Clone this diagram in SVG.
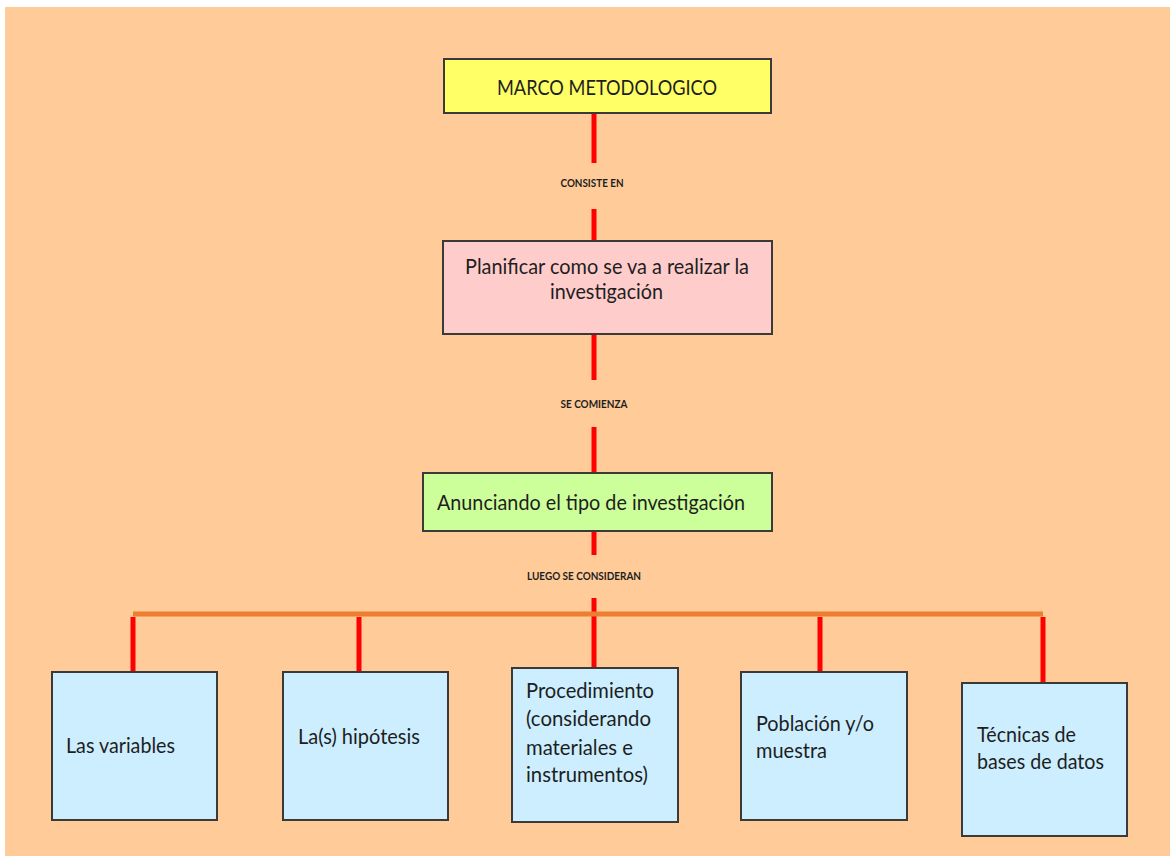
<svg xmlns="http://www.w3.org/2000/svg" width="1170" height="856" viewBox="0 0 1170 856">
<style>
.box{stroke:#3a3a3a;stroke-width:2}
.red{stroke:#ff0000;stroke-width:5;fill:none}
.org{stroke:#ed7d31;stroke-width:5;fill:none}
.t{font-family:Lato,"Open Sans",sans-serif;font-size:21px;fill:#1e1e1e}
.s{font-family:Lato,"Open Sans",sans-serif;font-size:11.5px;font-weight:bold;fill:#1e1e1e}
</style>
<rect x="0" y="0" width="1170" height="856" fill="#ffffff"/>
<rect x="5" y="7" width="1165" height="849" fill="#ffcb99"/>
<g id="connectors">
<line class="red" x1="594" y1="113" x2="594" y2="163"/>
<line class="red" x1="594" y1="209" x2="594" y2="241"/>
<line class="red" x1="594" y1="334" x2="594" y2="380"/>
<line class="red" x1="594" y1="427" x2="594" y2="473"/>
<line class="red" x1="594" y1="531" x2="594" y2="555"/>
<line class="red" x1="594" y1="598" x2="594" y2="668"/>
<line class="org" x1="133" y1="614" x2="1043" y2="614"/>
<line class="red" x1="133" y1="617" x2="133" y2="672"/>
<line class="red" x1="359" y1="617" x2="359" y2="672"/>
<line class="red" x1="820" y1="617" x2="820" y2="672"/>
<line class="red" x1="1043" y1="617" x2="1043" y2="683"/>
<text class="s" x="592" y="187" text-anchor="middle" textLength="63" lengthAdjust="spacingAndGlyphs">CONSISTE EN</text>
<text class="s" x="594" y="408" text-anchor="middle" textLength="67" lengthAdjust="spacingAndGlyphs">SE COMIENZA</text>
<text class="s" x="584" y="580" text-anchor="middle" textLength="114" lengthAdjust="spacingAndGlyphs">LUEGO SE CONSIDERAN</text>
</g>
<g id="marco">
<rect class="box" x="444" y="59" width="327" height="54" fill="#ffff66"/>
<text class="t" x="497" y="95" textLength="220" lengthAdjust="spacingAndGlyphs">MARCO METODOLOGICO</text>
</g>
<g id="planificar">
<rect class="box" x="443" y="241" width="329" height="93" fill="#ffcccc"/>
<text class="t" x="465" y="274" textLength="284" lengthAdjust="spacingAndGlyphs">Planificar como se va a realizar la</text>
<text class="t" x="550" y="299" textLength="113" lengthAdjust="spacingAndGlyphs">investigación</text>
</g>
<g id="anunciando">
<rect class="box" x="423" y="473" width="349" height="58" fill="#ccff99"/>
<text class="t" x="437" y="510" textLength="308" lengthAdjust="spacingAndGlyphs">Anunciando el tipo de investigación</text>
</g>
<g id="variables">
<rect class="box" x="52" y="672" width="165" height="148" fill="#cceeff"/>
<text class="t" x="66" y="753" textLength="109" lengthAdjust="spacingAndGlyphs">Las variables</text>
</g>
<g id="hipotesis">
<rect class="box" x="283" y="672" width="165" height="148" fill="#cceeff"/>
<text class="t" x="298" y="744" textLength="122" lengthAdjust="spacingAndGlyphs">La(s) hipótesis</text>
</g>
<g id="procedimiento">
<rect class="box" x="512" y="668" width="166" height="154" fill="#cceeff"/>
<text class="t" x="526" y="698" textLength="128" lengthAdjust="spacingAndGlyphs">Procedimiento</text>
<text class="t" x="526" y="726" textLength="125" lengthAdjust="spacingAndGlyphs">(considerando</text>
<text class="t" x="526" y="755" textLength="107" lengthAdjust="spacingAndGlyphs">materiales e</text>
<text class="t" x="526" y="782" textLength="122" lengthAdjust="spacingAndGlyphs">instrumentos)</text>
</g>
<g id="poblacion">
<rect class="box" x="741" y="672" width="166" height="148" fill="#cceeff"/>
<text class="t" x="756" y="731" textLength="118" lengthAdjust="spacingAndGlyphs">Población y/o</text>
<text class="t" x="756" y="758" textLength="71" lengthAdjust="spacingAndGlyphs">muestra</text>
</g>
<g id="tecnicas">
<rect class="box" x="962" y="683" width="165" height="153" fill="#cceeff"/>
<text class="t" x="977" y="742" textLength="99" lengthAdjust="spacingAndGlyphs">Técnicas de</text>
<text class="t" x="977" y="769" textLength="127" lengthAdjust="spacingAndGlyphs">bases de datos</text>
</g>
</svg>
